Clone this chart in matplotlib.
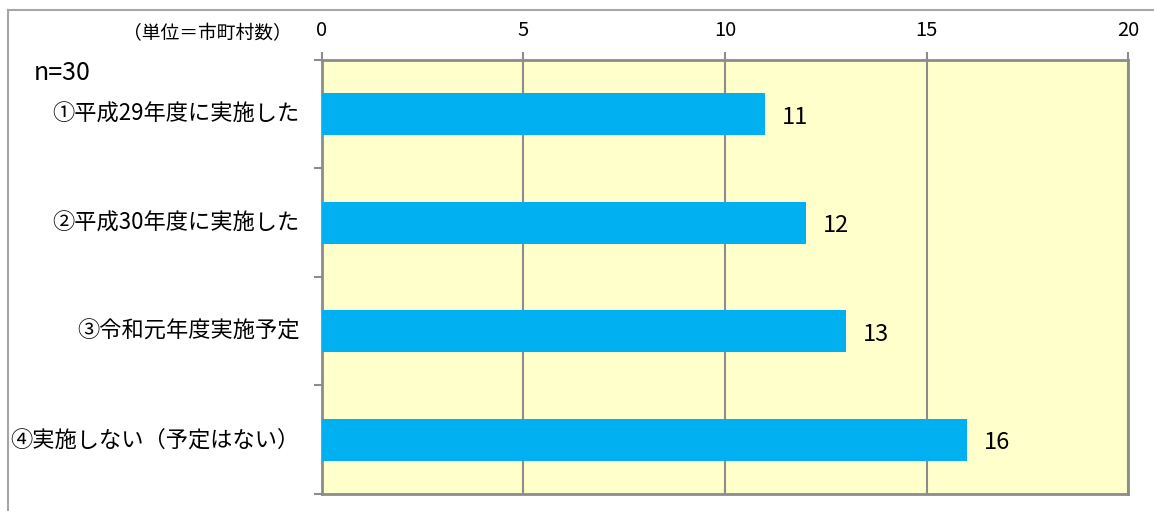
import matplotlib

matplotlib.use("Agg")
import matplotlib.pyplot as plt  # noqa: E402
from matplotlib.lines import Line2D  # noqa: E402

plt.rcParams["font.family"] = ["Noto Sans CJK JP", "DejaVu Sans"]

categories = [
    "①平成29年度に実施した",
    "②平成30年度に実施した",
    "③令和元年度実施予定",
    "④実施しない（予定はない）",
]
values = [11, 12, 13, 16]
x_ticks = [0, 5, 10, 15, 20]

GRAY = "#8c8c8c"

fig = plt.figure(figsize=(11.54, 5.11), dpi=100)
ax = fig.add_axes([0.279, 0.0333, 0.6985, 0.8493])
ax.set_facecolor("#FFFFCC")

ypos = list(range(len(categories)))
ax.barh(ypos, values, height=0.39, color="#00B0F0", zorder=3)
ax.set_ylim(len(categories) - 0.5, -0.5)
ax.set_xlim(0, 20)

ax.set_xticks(x_ticks)
ax.xaxis.tick_top()
ax.tick_params(axis="x", length=6, width=1.5, color=GRAY, labelsize=14.5, pad=8)
ax.grid(axis="x", color=GRAY, linewidth=1.5, zorder=1)

# category labels drawn as text, ticks at the boundaries
ax.set_yticks([i - 0.5 for i in range(len(categories) + 1)])
ax.set_yticklabels([])
ax.tick_params(axis="y", length=6, width=1.5, color=GRAY)
for i, lab in enumerate(categories):
    ax.text(-0.55, i, lab, ha="right", va="center", fontsize=16)

for s in ax.spines.values():
    s.set_color(GRAY)
    s.set_linewidth(2)

for i, v in enumerate(values):
    ax.text(v + 0.42, i + 0.03, str(v), ha="left", va="center", fontsize=17)

fig.text(0.029, 0.857, "n=30", ha="left", va="center", fontsize=18)
fig.text(0.253, 0.935, "（単位＝市町村数）", ha="right", va="center", fontsize=13.5)

# outer frame (top and left edges visible)
fig.add_artist(Line2D([0.007, 0.999], [0.98, 0.98], color="#a6a6a6", linewidth=1.5))
fig.add_artist(Line2D([0.007, 0.007], [0.0, 0.98], color="#a6a6a6", linewidth=1.5))

fig.savefig("out.png", dpi=100)
